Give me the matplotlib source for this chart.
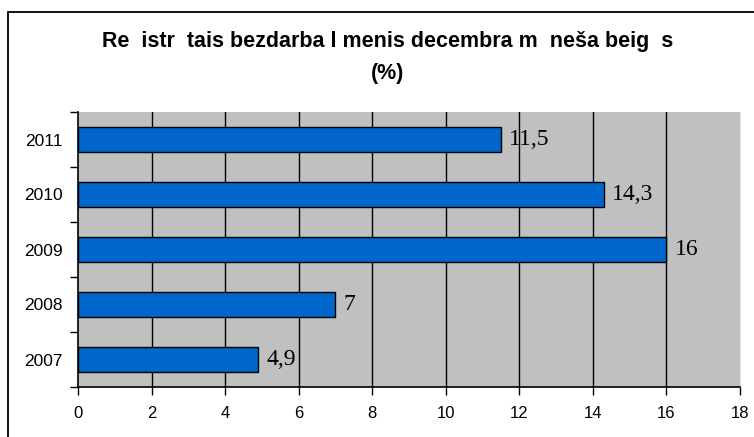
import matplotlib.pyplot as plt
from matplotlib.patches import Rectangle

years = ["2007", "2008", "2009", "2010", "2011"]
values = [4.9, 7, 16, 14.3, 11.5]
labels = ["4,9", "7", "16", "14,3", "11,5"]
title_1 = "Re  istr  tais bezdarba l menis decembra m  neša beig  s"
title_2 = "(%)"

fig = plt.figure(figsize=(7.54, 4.37), dpi=100)
fig.patch.set_facecolor("white")

# outer chart border (right and bottom edges run off the picture)
fig.patches.append(Rectangle((8 / 754, -0.2), 1.2, 1.2 - 12 / 437,
                             transform=fig.transFigure, fill=False,
                             edgecolor="black", linewidth=1.3))

ax = fig.add_axes([78 / 754, 1 - 387 / 437, 662 / 754, 275 / 437])
ax.set_facecolor("#C0C0C0")

pos = list(range(len(years)))
ax.barh(pos, values, height=0.44, color="#0066CC", edgecolor="black",
        linewidth=1, zorder=3)
for p, v, t in zip(pos, values, labels):
    ax.annotate(t, (v, p), xytext=(6, 0), textcoords="offset points",
                va="center", ha="left", fontsize=17,
                family="Liberation Serif", zorder=4)

ax.set_xlim(0, 18)
ax.set_ylim(-0.5, 4.5)
ax.set_xticks(range(0, 19, 2))
ax.tick_params(axis="x", direction="out", length=6, width=1, labelsize=12,
               pad=8)
ax.set_yticks([p - 0.5 for p in pos] + [4.5])
ax.set_yticklabels([])
ax.set_yticks(pos, minor=True)
ax.set_yticklabels(years, minor=True)
ax.tick_params(axis="y", which="major", direction="out", length=6, width=1)
ax.tick_params(axis="y", which="minor", length=0, labelsize=12.5, pad=11)
for lab in ax.get_xticklabels() + ax.get_yticklabels(minor=True):
    lab.set_family("Liberation Sans")

for x in range(2, 18, 2):
    ax.axvline(x, color="black", linewidth=1, zorder=2)

ax.spines["top"].set_visible(False)
ax.spines["right"].set_color("#E0E0E0")
ax.spines["left"].set_linewidth(1.2)
ax.spines["bottom"].set_linewidth(1.2)

fig.text(388 / 754, 1 - 41 / 437, title_1, ha="center", va="center",
         fontsize=15.5, fontweight="bold", family="Liberation Sans")
fig.text(388 / 754, 1 - 73 / 437, title_2, ha="center", va="center",
         fontsize=15.5, fontweight="bold", family="Liberation Sans")

fig.savefig("out.png", dpi=100)
